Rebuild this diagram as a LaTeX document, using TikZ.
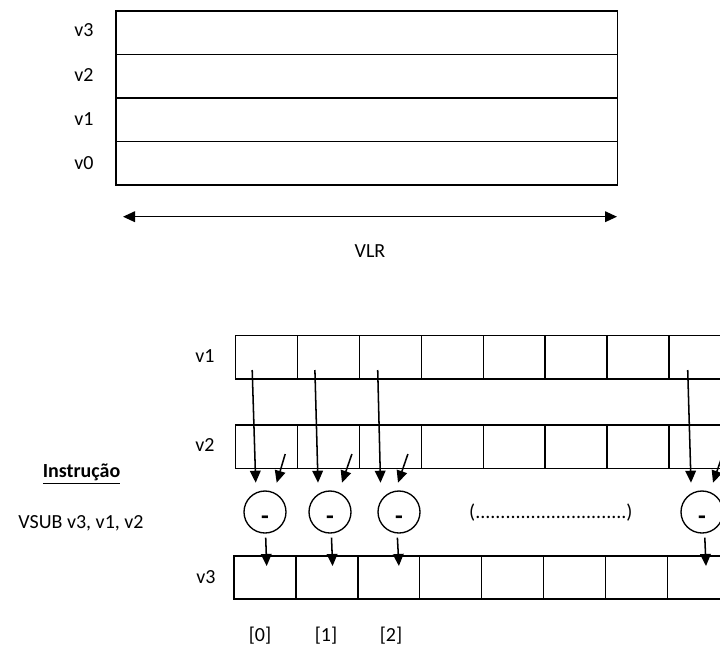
\documentclass[tikz,border=0pt]{standalone}
\usepackage{fontspec}
\setmainfont{Carlito}
\usetikzlibrary{arrows.meta}

\begin{document}
\begin{tikzpicture}[
  x=0.75pt, y=-0.75pt,
  font=\fontsize{15}{18}\selectfont,
  regrow/.style={draw, line width=1.05pt, minimum width=376pt, minimum height=32.6pt, inner sep=0pt},
  cell/.style={draw, line width=1.05pt, minimum width=46.4pt, minimum height=32.5pt, inner sep=0pt},
  op/.style={draw, circle, line width=1pt, minimum size=31.5pt, inner sep=0pt},
  arr/.style={-{Triangle[length=9pt,width=8pt]}, line width=1.15pt},
  span/.style={{Triangle[length=9pt,width=8pt]}-{Triangle[length=9pt,width=8pt]}, line width=1.15pt}
]
\useasboundingbox (0,0) rectangle (720,646);
\clip (0,0) rectangle (720,646);
\fill[white] (0,0) rectangle (720,646);

% register file
\node[regrow] (rv3) at (366.7,32.75) {};
\node[regrow] (rv2) at (366.7,76.25) {};
\node[regrow] (rv1) at (366.7,119.75) {};
\node[regrow] (rv0) at (366.7,163.25) {};
\node (lv3) at (84,30) {v3};
\node (lv2) at (84,75) {v2};
\node (lv1) at (84,119) {v1};
\node (lv0) at (84,163) {v0};

\coordinate (vlrL) at (123,216.7);
\coordinate (vlrR) at (617,216.7);
\draw[span] (vlrL) -- (vlrR);
\node (vlr) at (370,251) {VLR};

% element-wise subtraction
\foreach \i in {0,...,7} {
  \node[cell] (a\i) at (266.6+61.9*\i,357.3) {};
  \node[cell] (b\i) at (266.6+61.9*\i,446.7) {};
  \node[cell] (c\i) at (265+61.9*\i,577.5) {};
}
\node (la) at (205,356) {v1};
\node (lb) at (205,445) {v2};
\node (lc) at (206,577) {v3};

\foreach \i/\c/\p/\q/\r/\s/\t/\u in {
  0/265/-14.4/-9.3/18.6/11.7/0.7/1.7,
  1/330/-13.6/-12/23.4/12/1.5/5.7,
  2/399/-12.7/-18.5/17.5/-1/-1.6/10.1,
  7/702/-12.2/-11/23/11/2.8/7.7} {
  \node[op] (op\i) at (\c,512) {};
  \node[font=\fontsize{19}{20}\selectfont\bfseries] (m\i) at ([shift={(0,8)}]op\i.center) {-};
  \draw[arr] ([shift={(\p,12.7)}]a\i.center) -- ([shift={(\q,-29.3)}]op\i.center);
  \draw[arr] ([shift={(\r,7.3)}]b\i.center) -- ([shift={(\s,-29.3)}]op\i.center);
  \draw[arr] ([shift={(\t,25.7)}]op\i.center) -- ([shift={(\u,-11.5)}]c\i.center);
}
\node (gap) at (551,513) {(..............................)};

\node (i0) at (260,636) {[0]};
\node (i1) at (326,636) {[1]};
\node (i2) at (391,636) {[2]};

\node (instr) at (81.5,474) {\underline{\textbf{Instrução}}};
\node (vsub) at (81,523) {VSUB v3, v1, v2};
\end{tikzpicture}
\end{document}
